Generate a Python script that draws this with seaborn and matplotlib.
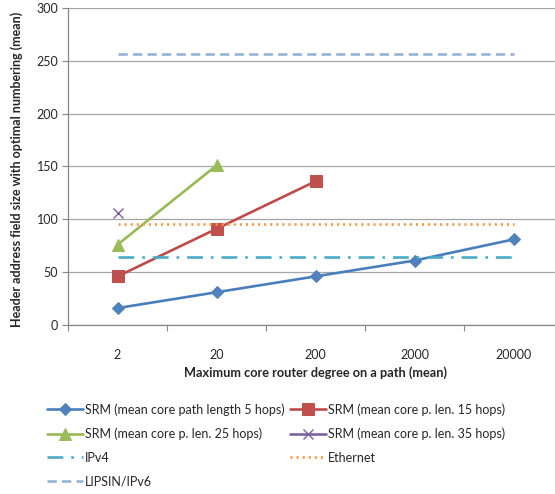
import matplotlib
matplotlib.use("Agg")
import matplotlib.pyplot as plt
import seaborn as sns
import pandas as pd

categories = ["2", "20", "200", "2000", "20000"]
srm5 = [16, 31, 46, 61, 81]
srm15 = [46, 91, 136]
srm25 = [76, 151]
srm35 = [106]
ipv4 = [64, 64, 64, 64, 64]
ethernet = [96, 96, 96, 96, 96]
lipsin = [256, 256, 256, 256, 256]

labels = ["SRM (mean core path length 5 hops)", "SRM (mean core p. len. 15 hops)",
          "SRM (mean core p. len. 25 hops)", "SRM (mean core p. len. 35 hops)",
          "IPv4", "Ethernet", "LIPSIN/IPv6"]

sns.set_style("white")
plt.rcParams['font.family'] = ['Lato', 'DejaVu Sans']

fig = plt.figure(figsize=(5.55, 4.94), dpi=100)
W, H = 555, 494
ax = fig.add_axes([68 / W, (H - 325) / H, 495 / W, 317 / H])

def pos(vals):
    return list(range(len(vals)))

lw = 1.9
series = [
    (srm5, labels[0], dict(color="#4A7EBB", marker="D", markersize=6.5, linewidth=lw,
                            markerfacecolor="#4F81BD", markeredgecolor="#4F81BD")),
    (srm15, labels[1], dict(color="#BE4B48", marker="s", markersize=8, linewidth=lw,
                             markerfacecolor="#C0504D", markeredgecolor="#C0504D")),
    (srm25, labels[2], dict(color="#98B954", marker="^", markersize=9, linewidth=lw,
                             markerfacecolor="#9BBB59", markeredgecolor="#9BBB59")),
    (srm35, labels[3], dict(color="#7D60A0", marker="x", markersize=7, linewidth=lw,
                             markeredgecolor="#7D60A0", markeredgewidth=1.0)),
    (ipv4, labels[4], dict(color="#4BACC6", linewidth=lw, dashes=[6, 3, 1, 3])),
    (ethernet, labels[5], dict(color="#F79646", linewidth=lw, dashes=[0.8, 1.5])),
    (lipsin, labels[6], dict(color="#95B3D7", linewidth=lw, dashes=[3.5, 2])),
]

handles = {}
for vals, lab, kw in series:
    df = pd.DataFrame({"x": pos(vals), "y": vals})
    dashes = kw.pop("dashes", None)
    sns.lineplot(data=df, x="x", y="y", ax=ax, label=lab, legend=False, **kw)
    line = ax.get_lines()[-1]
    if dashes is not None:
        line.set_dashes(dashes)
    handles[lab] = line

ax.set_xlim(-0.5, 4.5)
ax.set_ylim(0, 300)
ax.set_yticks(range(0, 301, 50))
ax.yaxis.grid(True, color="#A6A6A6", linewidth=0.9)
ax.set_axisbelow(True)

ax.set_xticks([i - 0.5 for i in range(5)])
ax.set_xticklabels([])
ax.set_xticks(range(5), minor=True)
ax.set_xticklabels(categories, minor=True)
ax.tick_params(axis="x", which="major", length=4, direction="out", color="#868686", width=0.8)
ax.tick_params(axis="x", which="minor", length=0, pad=17, labelsize=9)
ax.tick_params(axis="y", length=4, direction="out", color="#868686", width=0.8, labelsize=9, pad=3)
ax.tick_params(left=True, bottom=True)

for s in ["top", "right"]:
    ax.spines[s].set_visible(False)
for s in ["left", "bottom"]:
    ax.spines[s].set_color("#868686")
    ax.spines[s].set_linewidth(0.9)

ax.set_xlabel("Maximum core router degree on a path (mean)", fontsize=9.2, fontweight="bold")
ax.set_ylabel("Header address field size with optimal numbering (mean)", fontsize=9,
              fontweight="bold")
ax.xaxis.set_label_coords(0.5, -(366 - 325) / 317)
ax.yaxis.set_label_coords(-(68 - 23) / 495, 0.49)

order = [labels[0], labels[2], labels[4], labels[6], labels[1], labels[3], labels[5]]
leg = fig.legend([handles[l] for l in order], order, ncol=2, frameon=False,
                 loc="upper left", bbox_to_anchor=(42 / W, 1 - 398 / H),
                 fontsize=9, handlelength=2.9, handletextpad=0.15,
                 columnspacing=0.4, labelspacing=0.95, borderaxespad=0)

fig.savefig("out.png", dpi=100)
